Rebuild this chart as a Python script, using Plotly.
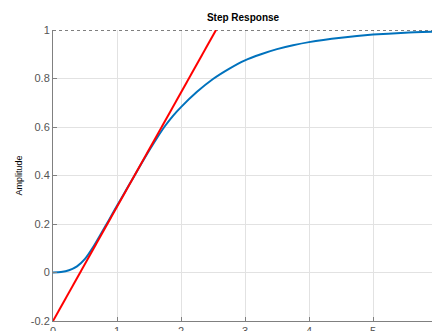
import plotly.graph_objects as go

# Step response
t = [0, 0.125, 0.25, 0.375, 0.5, 0.625, 0.75, 0.875, 1.0, 1.125, 1.25,
     1.375, 1.5, 1.625, 1.75, 1.875, 2.0, 2.25, 2.5, 2.75, 3.0, 3.25, 3.5,
     3.75, 4.0, 4.5, 5.0, 5.5, 6.0]
amp = [0, 0.002, 0.009, 0.025, 0.056, 0.104, 0.16, 0.217, 0.275, 0.332,
       0.389, 0.446, 0.502, 0.555, 0.604, 0.646, 0.682, 0.745, 0.798, 0.84,
       0.875, 0.9, 0.921, 0.937, 0.95, 0.968, 0.981, 0.989, 0.993]

# Tangent line at the inflection point
tan_t = [0, 2.547]
tan_y = [-0.2, 1.0]

# Steady-state value line
ss_t = [0, 6]
ss_y = [1, 1]

x_ticks = [0, 1, 2, 3, 4, 5, 6]
y_ticks = [-0.2, 0, 0.2, 0.4, 0.6, 0.8, 1]
y_labels = ["-0.2", "0", "0.2", "0.4", "0.6", "0.8", "1"]

fig = go.Figure()
fig.add_trace(go.Scatter(x=ss_t, y=ss_y, mode="lines",
                         line=dict(color="black", width=1, dash="dot"),
                         hoverinfo="skip", showlegend=False))
fig.add_trace(go.Scatter(x=t, y=amp, mode="lines", line_shape="spline",
                         line=dict(color="#0072BD", width=2, smoothing=0.6),
                         showlegend=False))
fig.add_trace(go.Scatter(x=tan_t, y=tan_y, mode="lines",
                         line=dict(color="#FF0000", width=2),
                         showlegend=False))

fig.update_layout(
    width=432, height=331,
    margin=dict(l=53, r=0, t=30, b=10, pad=0),
    paper_bgcolor="white", plot_bgcolor="white",
    font=dict(family="Liberation Sans, Arial, sans-serif", size=11, color="#555"),
    title=dict(text="<b>Step Response</b>", x=243/432, xanchor="center",
               y=1 - 17/331, yanchor="middle",
               font=dict(size=10, color="black")),
    showlegend=False,
)
fig.update_xaxes(range=[0, 379/64], tickvals=x_ticks, ticks="inside", ticklen=4,
                 tickcolor="#808080", showline=True, linecolor="#808080",
                 linewidth=1, showgrid=True, gridcolor="#e2e2e2", gridwidth=1,
                 zeroline=False, automargin=False,
                 tickfont=dict(size=11, color="#555"))
fig.update_yaxes(range=[-0.2, 1], tickvals=y_ticks, ticktext=y_labels,
                 ticks="inside", ticklen=4, tickcolor="#808080",
                 showline=True, linecolor="#808080", linewidth=1,
                 showgrid=True, gridcolor="#e2e2e2", gridwidth=1,
                 zeroline=False, automargin=False,
                 title=dict(text="Amplitude", font=dict(size=9, color="black"),
                            standoff=6),
                 tickfont=dict(size=11, color="#555"))

fig.write_html("out.html")
